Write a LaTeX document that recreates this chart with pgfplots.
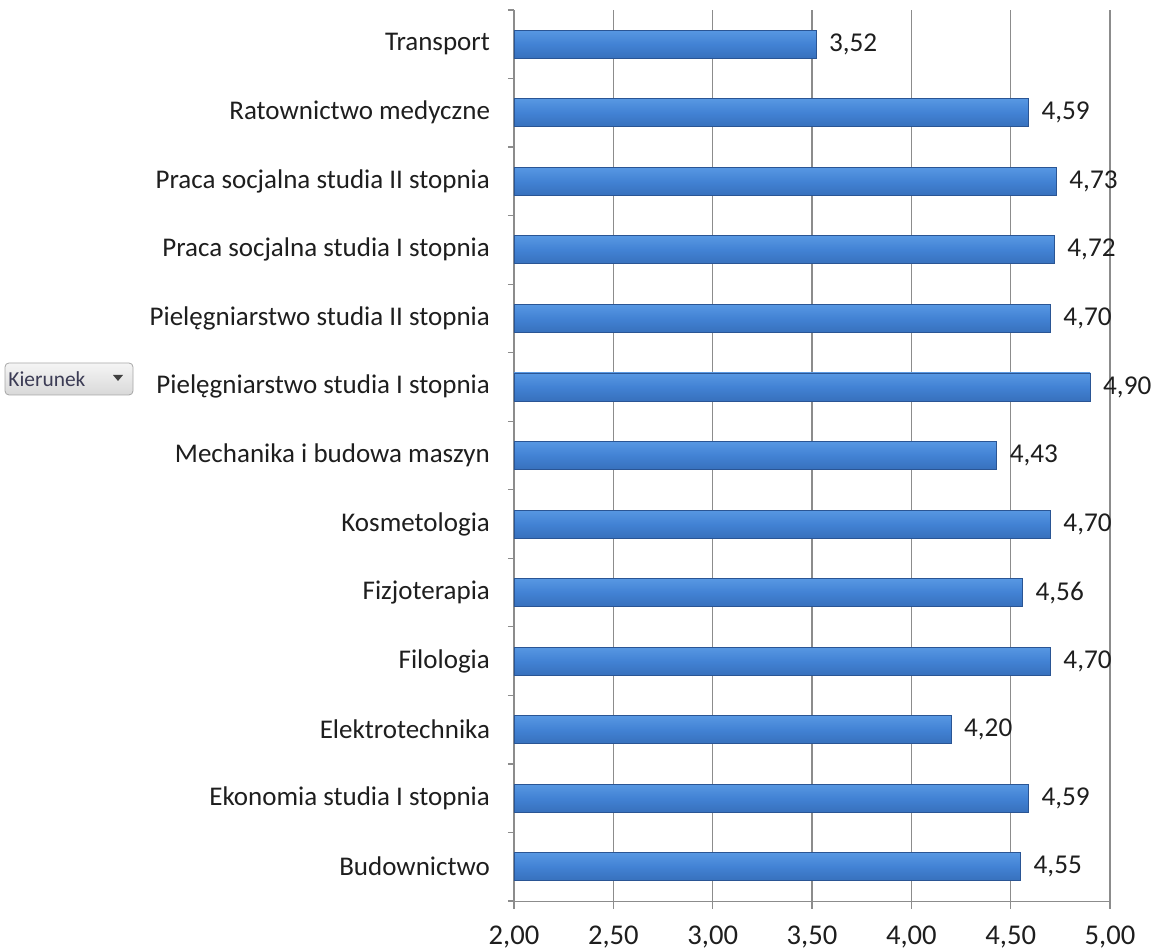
\documentclass[border=0pt]{standalone}
\usepackage{fontspec}
\setmainfont{Carlito}
\usepackage{pgfplots}
\pgfplotsset{compat=1.18}

\definecolor{gridgray}{HTML}{8C8C8C}
\definecolor{bdark}{HTML}{234A85}
\definecolor{bmid}{HTML}{3166AE}
\definecolor{bmain}{HTML}{4282D4}
\definecolor{blight}{HTML}{5A9AE4}
\definecolor{bhigh}{HTML}{8EC6F5}
\definecolor{btop}{HTML}{6AA6EA}
\definecolor{bedge}{HTML}{2A5594}
\definecolor{txt}{HTML}{1E1E1E}

\pgfdeclareverticalshading{barshade}{100bp}{
  color(0bp)=(bdark); color(10bp)=(bmid); color(50bp)=(bmain);
  color(78bp)=(blight); color(90bp)=(bhigh); color(100bp)=(btop)}

\pgfplotsset{barst/.style={draw=bedge, line width=0.4pt, shade, shading=barshade}}

\begin{document}
\begin{tikzpicture}
\useasboundingbox (0,0) rectangle (582pt,475.5pt);
\begin{axis}[
    at={(257pt,25pt)}, anchor=south west,
    scale only axis,
    width=298pt, height=445.5pt,
    xmin=2, xmax=5,
    ymin=-0.5, ymax=12.5,
    xtick={2,2.5,...,5},
    ytick={0,...,12},
    yticklabels={
      Budownictwo,
      Ekonomia studia I stopnia,
      Elektrotechnika,
      Filologia,
      Fizjoterapia,
      Kosmetologia,
      Mechanika i budowa maszyn,
      Pielęgniarstwo studia I stopnia,
      Pielęgniarstwo studia II stopnia,
      Praca socjalna studia I stopnia,
      Praca socjalna studia II stopnia,
      Ratownictwo medyczne,
      Transport},
    minor ytick={-0.5,0.5,...,12.5},
    axis x line*=bottom,
    axis y line*=left,
    axis line style={gridgray, -},
    xmajorgrids,
    major grid style={gridgray, line width=0.6pt},
    tick align=outside,
    tick style={gridgray, line width=0.6pt},
    major tick length=4pt,
    minor tick length=3pt,
    major y tick style={draw=none},
    tick label style={font=\fontsize{13.5}{15}\selectfont, text=txt},
    yticklabel style={xshift=-4.5pt},
    xticklabel style={font=\fontsize{14.3}{16}\selectfont, yshift=-5pt,
      /pgf/number format/.cd, use comma, fixed, fixed zerofill, precision=2,
      /pgf/number format/assume math mode=true},
    clip mode=individual,
    xbar,
    bar shift=0pt,
    bar width=14pt,
    nodes near coords,
    nodes near coords style={
      font=\fontsize{13.6}{15}\selectfont, text=txt, anchor=west, xshift=3pt,
      /pgf/number format/.cd, use comma, fixed, fixed zerofill, precision=2,
      /pgf/number format/assume math mode=true},
]
\addplot[barst] coordinates {(4.55,0)};  % Budownictwo
\addplot[barst] coordinates {(4.59,1)};  % Ekonomia studia I stopnia
\addplot[barst] coordinates {(4.20,2)};  % Elektrotechnika
\addplot[barst] coordinates {(4.70,3)};  % Filologia
\addplot[barst] coordinates {(4.56,4)};  % Fizjoterapia
\addplot[barst] coordinates {(4.70,5)};  % Kosmetologia
\addplot[barst] coordinates {(4.43,6)};  % Mechanika i budowa maszyn
\addplot[barst] coordinates {(4.90,7)};  % Pielegniarstwo I
\addplot[barst] coordinates {(4.70,8)};  % Pielegniarstwo II
\addplot[barst] coordinates {(4.72,9)};  % Praca socjalna I
\addplot[barst] coordinates {(4.73,10)}; % Praca socjalna II
\addplot[barst] coordinates {(4.59,11)}; % Ratownictwo medyczne
\addplot[barst] coordinates {(3.52,12)}; % Transport
\end{axis}

% filter button at the left
\node[draw=gray!70, rounded corners=2pt, top color=gray!8, bottom color=gray!30,
      minimum width=64pt, minimum height=16pt, inner sep=0pt]
      at (34.5pt,286pt) {};
\node[anchor=west, inner sep=0pt, text={rgb,255:red,60;green,60;blue,85},
      font=\fontsize{10.7}{12}\selectfont] at (4pt,286pt) {Kierunek};
\fill[black!75] (56.5pt,288pt) -- (61.5pt,288pt) -- (59pt,285pt) -- cycle;
\end{tikzpicture}
\end{document}
